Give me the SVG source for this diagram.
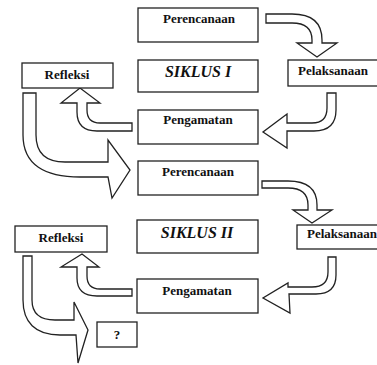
<svg xmlns="http://www.w3.org/2000/svg" width="377" height="365" viewBox="0 0 377 365">
<style>
.box{fill:#fff;stroke:#222;stroke-width:1.3}
.arr{fill:#fff;stroke:#222;stroke-width:1.3;stroke-linejoin:miter}
.t{font-family:"Liberation Serif","Times New Roman",serif;font-weight:bold;font-size:13px;fill:#111;text-anchor:middle}
.s{font-family:"Liberation Serif","Times New Roman",serif;font-weight:bold;font-style:italic;font-size:16px;fill:#111;text-anchor:middle}
</style>
<rect width="377" height="365" fill="#fff"/>
<g id="connectors">
<path class="arr" d="M266,14 L292,14 Q322,14 322,40 L322,43 L337,43 L317,57 L297,43 L312,43 L312,40 Q312,23 292,23 L266,23 Z"/>
<path class="arr" d="M327,93 L336,93 L336,110 Q336,131 314,131 L287,131 L287,148 L263,132 L287,114 L287,123 L312,123 Q327,123 327,108 Z"/>
<path class="arr" d="M132,123 L100,123 Q87,123 87,110 L87,103 L100,103 L80,88 L61,103 L77,103 L77,112 Q77,131 97,131 L132,131 Z"/>
<path class="arr" d="M23,93 L36,93 L36,135 C36,152 45,162 65,162 L108,162 L108,140 L130,170 L112,198 L108,177 L80,177 C45,177 23,165 23,135 Z"/>
<path class="arr" d="M262,181 L288,181 Q317,181 317,205 L317,210 L332,210 L312,223 L293,210 L308,210 L308,205 Q308,188 288,188 L262,188 Z"/>
<path class="arr" d="M328,257 L336,257 L336,275 Q336,294 316,294 L289,294 L290,313 L263,298 L288,283 L288,287 L312,287 Q328,287 328,272 Z"/>
<path class="arr" d="M132,289 L100,289 Q87,289 87,276 L87,267 L99,267 L82,254 L61,267 L77,267 L77,278 Q77,296 97,296 L132,296 Z"/>
<path class="arr" d="M23,256 L32,256 L32,300 C32,313 40,320 55,320 L74,320 L74,302 L88,330 L78,363 L76,335 L60,335 C35,335 23,322 23,300 Z"/>
</g>
<g id="perencanaan1"><rect class="box" x="138" y="8" width="120" height="34"/><text class="t" x="199" y="23">Perencanaan</text></g>
<g id="siklus1"><rect class="box" x="138" y="60" width="120" height="32"/><text class="s" x="198" y="77">SIKLUS I</text></g>
<g id="pengamatan1"><rect class="box" x="138" y="110" width="120" height="34"/><text class="t" x="198" y="124">Pengamatan</text></g>
<g id="refleksi1"><rect class="box" x="22" y="63" width="91" height="25"/><text class="t" x="67" y="79">Refleksi</text></g>
<g id="pelaksanaan1"><rect class="box" x="288" y="60" width="95" height="26"/><text class="t" x="333" y="75">Pelaksanaan</text></g>
<g id="perencanaan2"><rect class="box" x="138" y="161" width="120" height="34"/><text class="t" x="198" y="176">Perencanaan</text></g>
<g id="siklus2"><rect class="box" x="137" y="220" width="121" height="33"/><text class="s" x="197" y="238">SIKLUS II</text></g>
<g id="pengamatan2"><rect class="box" x="137" y="279" width="121" height="34"/><text class="t" x="197" y="295">Pengamatan</text></g>
<g id="refleksi2"><rect class="box" x="15" y="226" width="92" height="26"/><text class="t" x="61" y="242">Refleksi</text></g>
<g id="pelaksanaan2"><rect class="box" x="297" y="225" width="90" height="24"/><text class="t" x="342" y="238">Pelaksanaan</text></g>
<g id="question"><rect class="box" x="97" y="322" width="40" height="25"/><text class="t" x="117" y="339">?</text></g>
</svg>
